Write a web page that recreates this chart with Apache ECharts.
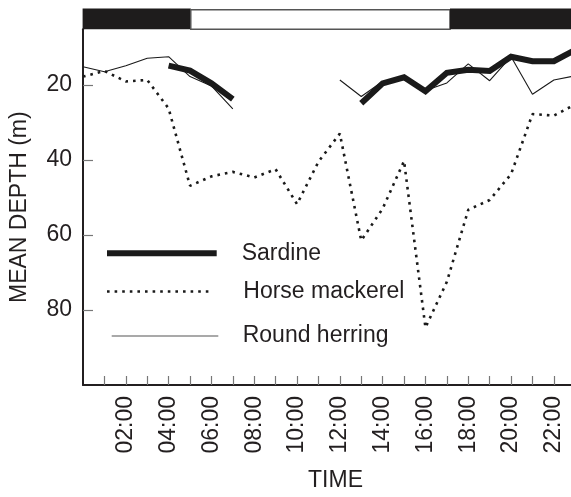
<!DOCTYPE html>
<html><head><meta charset="utf-8">
<script src="https://cdn.jsdelivr.net/npm/echarts@6/dist/echarts.min.js"></script>
<style>html,body{margin:0;padding:0;background:#fff}#c{width:571px;height:497px}</style>
</head><body><div id="c"></div>
<script>
const hours = [0,1,2,3,4,5,6,7,8,9,10,11,12,13,14,15,16,17,18,19,20,21,22,23];
const sardine = [null,null,null,null,14.9,16.2,19.6,23.8,null,null,null,null,null,24.9,19.6,18.0,21.7,16.8,16.0,16.3,12.5,13.7,13.7,10.7];
const horseMackerel = [17.8,16.3,19.1,18.7,26.3,46.9,44.4,43.2,44.7,42.5,51.8,40.5,33.0,61.5,53.0,40.3,84.7,72.5,53.3,50.7,43.8,27.8,28.2,25.2];
const roundHerring = [15.2,16.5,14.9,12.9,12.5,17.8,20.3,26.4,null,null,null,null,18.7,23.1,19.1,18.0,21.5,19.5,14.4,18.9,12.5,22.5,18.7,17.6];
const yTickValues = [20,40,60,80];
const xTickValues = [1,2,3,4,5,6,7,8,9,10,11,12,13,14,15,16,17,18,19,20,21,22];
const xLabelValues = [2,4,6,8,10,12,14,16,18,20,22];
// [start hour, end hour, dark(1)/light(0)]
const lightPeriods = [[0,5.05,1],[5.05,17.15,0],[17.15,24,1]];

const FONT = 'Liberation Sans, Arial, Helvetica, sans-serif';
const INK = '#231f20';
const pairs = arr => hours.map((h,i)=>[h, arr[i]]);

const chart = echarts.init(document.getElementById('c'), null, {renderer:'canvas'});
chart.setOption({
  animation:false,
  backgroundColor:'#fff',
  grid:[
    {left:82.6, right:0, top:29.3, bottom:110.3},
    {left:82.6, right:0, top:8.5, height:20.8}
  ],
  xAxis:[
    {type:'value', gridIndex:0, min:0, max:22.8,
     name:'TIME', nameLocation:'middle', nameGap:84,
     nameTextStyle:{fontFamily:FONT, fontSize:23, color:INK, padding:[0,0,0,17]},
     axisLine:{show:true, onZero:false, lineStyle:{color:INK, width:2}},
     axisTick:{show:true, inside:true, length:9, customValues:xTickValues, lineStyle:{color:'#777', width:1.2}},
     axisLabel:{show:true, customValues:xLabelValues, rotate:90, margin:11,
       fontFamily:FONT, fontSize:23, color:INK,
       formatter:v=>String(v).padStart(2,'0')+':00'},
     splitLine:{show:false}},
    {type:'value', gridIndex:1, min:0, max:22.8, show:false}
  ],
  yAxis:[
    {type:'value', gridIndex:0, min:5.2, max:100, inverse:true,
     name:'MEAN DEPTH (m)', nameLocation:'middle', nameGap:52,
     nameTextStyle:{fontFamily:FONT, fontSize:23, color:INK},
     axisLine:{show:true, onZero:false, lineStyle:{color:INK, width:2}},
     axisTick:{show:true, inside:true, length:10, customValues:yTickValues, lineStyle:{color:'#777', width:1.2}},
     axisLabel:{show:true, customValues:yTickValues, margin:11, fontFamily:FONT, fontSize:23, color:INK},
     splitLine:{show:false}},
    {type:'value', gridIndex:1, min:0, max:1, show:false}
  ],
  series:[
    {type:'custom', xAxisIndex:1, yAxisIndex:1, data:lightPeriods, silent:true,
     renderItem(params, api){
       const s = api.coord([api.value(0), 1]);
       const e = api.coord([api.value(1), 0]);
       const cs = params.coordSys;
       const dark = api.value(2) === 1;
       const r = echarts.graphic.clipRectByRect(
         {x:s[0], y:s[1] + (dark?0:1.2), width:e[0]-s[0], height:e[1]-s[1]-(dark?0:1.2)},
         {x:cs.x, y:cs.y, width:cs.width+2, height:cs.height});
       if(!r) return null;
       return {type:'rect', shape:r,
         style: dark ? {fill:'#1e1c1c'} : {fill:'#fff', stroke:'#555', lineWidth:1.5}};
     }},
    {name:'Horse mackerel', type:'line', data:pairs(horseMackerel), symbol:'none', clip:true,
     lineStyle:{color:'#1a1a1a', width:2.6, type:[2.6,5], cap:'butt'}},
    {name:'Round herring', type:'line', data:pairs(roundHerring), symbol:'none', clip:true, connectNulls:false,
     lineStyle:{color:'#1a1a1a', width:1.1}},
    {name:'Sardine', type:'line', data:pairs(sardine), symbol:'none', clip:true, connectNulls:false,
     lineStyle:{color:'#1a1a1a', width:6, join:'miter'}}
  ],
  graphic:[
    {type:'line', shape:{x1:107, y1:253.3, x2:216.7, y2:253.3}, style:{stroke:'#1a1a1a', lineWidth:6}},
    {type:'line', shape:{x1:107, y1:291.5, x2:212, y2:291.5}, style:{stroke:'#1a1a1a', lineWidth:2.6, lineDash:[2.6,5]}},
    {type:'line', shape:{x1:111.7, y1:336, x2:218.3, y2:336}, style:{stroke:'#555', lineWidth:1.2}},
    {type:'text', x:241.7, y:253.3, style:{text:'Sardine', font:'23px '+FONT, fill:INK, verticalAlign:'middle'}},
    {type:'text', x:243.3, y:291.5, style:{text:'Horse mackerel', font:'23px '+FONT, fill:INK, verticalAlign:'middle'}},
    {type:'text', x:242.7, y:336, style:{text:'Round herring', font:'23px '+FONT, fill:INK, verticalAlign:'middle'}}
  ]
});
</script></body></html>
